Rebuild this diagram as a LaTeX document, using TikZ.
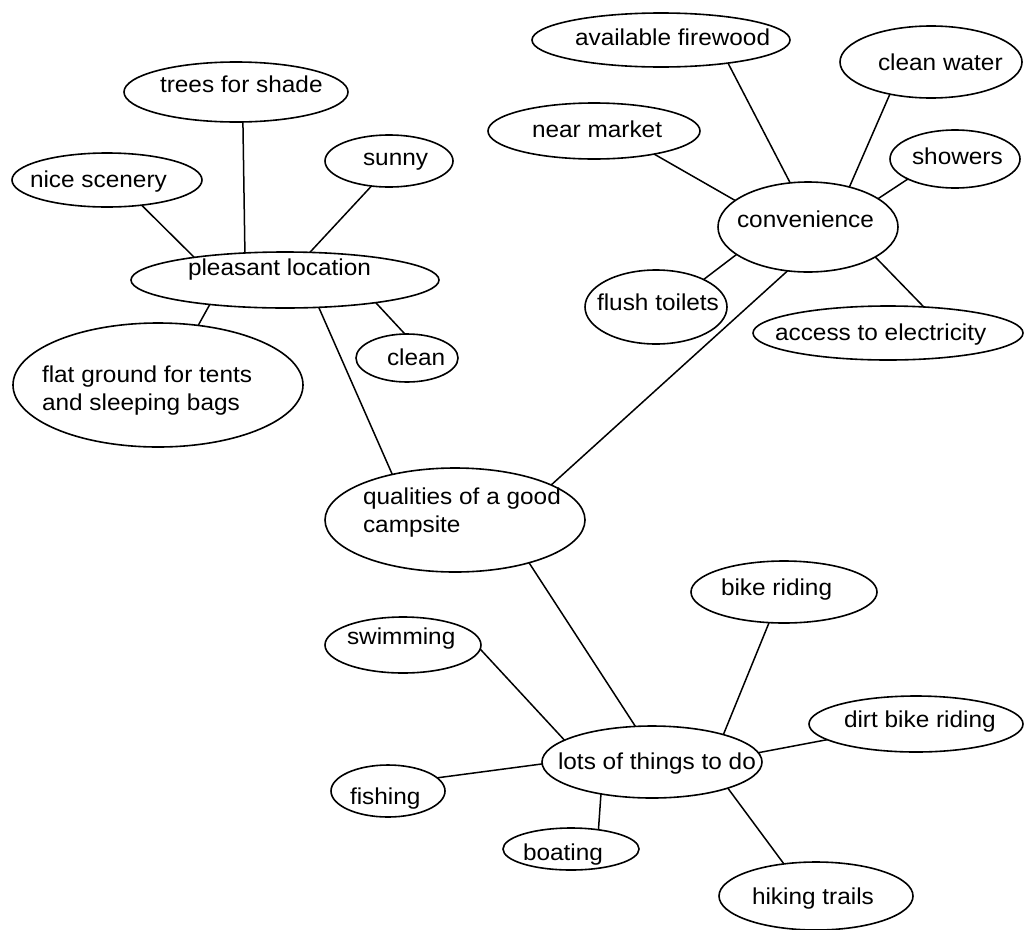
\documentclass[tikz,border=0pt]{standalone}
\usepackage{fontspec}
\setmainfont{Liberation Sans}[FakeStretch=1.06]
\usetikzlibrary{shapes.geometric}
\newcommand\tx[3]{\makebox[0pt][l]{\hspace*{#1pt}\raisebox{#2pt}{#3}}}
\newcommand\twol[2]{\begin{tabular}[b]{@{}l@{}}#1\\#2\end{tabular}}
\begin{document}
\begin{tikzpicture}[x=1pt,y=-1pt,
  bub/.style={draw, ellipse, line width=1.6pt, inner sep=0pt, outer sep=0pt,
    text height=0pt, text depth=0pt, font=\fontsize{23}{28}\selectfont},
  link/.style={line width=1.5pt}]
\useasboundingbox (0,0) rectangle (1024,929);
% left cluster
\node[bub, minimum width=224pt, minimum height=60pt] (trees) at (236,92) {\tx{-76}{0}{trees for shade}};
\node[bub, minimum width=190pt, minimum height=54pt] (scen) at (107,180) {\tx{-77}{-7}{nice scenery}};
\node[bub, minimum width=128pt, minimum height=52pt] (sunny) at (389,161) {\tx{-26}{-4}{sunny}};
\node[bub, minimum width=308pt, minimum height=56pt] (pleas) at (285,280) {\tx{-97}{5}{pleasant location}};
\node[bub, minimum width=102pt, minimum height=48pt] (clean) at (407,358) {\tx{-20}{-7}{clean}};
\node[bub, minimum width=290pt, minimum height=124pt] (flat) at (158,385) {\tx{-116}{-25}{\twol{flat ground for tents}{and sleeping bags}}};
% top right cluster
\node[bub, minimum width=258pt, minimum height=54pt] (fire) at (661,40) {\tx{-86}{-5}{available firewood}};
\node[bub, minimum width=182pt, minimum height=72pt] (water) at (931,62) {\tx{-53}{-8}{clean water}};
\node[bub, minimum width=212pt, minimum height=56pt] (market) at (594,131) {\tx{-62}{-6}{near market}};
\node[bub, minimum width=130pt, minimum height=58pt] (showers) at (955,159) {\tx{-43}{-5}{showers}};
\node[bub, minimum width=180pt, minimum height=90pt] (conv) at (808,227) {\tx{-71}{0}{convenience}};
\node[bub, minimum width=142pt, minimum height=74pt] (toilets) at (656,307) {\tx{-59}{-3}{flush toilets}};
\node[bub, minimum width=270pt, minimum height=54pt] (elec) at (888,333) {\tx{-113}{-7}{access to electricity}};
% centre
\node[bub, minimum width=260pt, minimum height=104pt] (qual) at (455,520) {\tx{-92}{-12}{\twol{qualities of a good}{campsite}}};
% bottom cluster
\node[bub, minimum width=156pt, minimum height=56pt] (swim) at (403,645) {\tx{-56}{1}{swimming}};
\node[bub, minimum width=220pt, minimum height=72pt] (lots) at (652,762) {\tx{-94}{-7}{lots of things to do}};
\node[bub, minimum width=114pt, minimum height=52pt] (fish) at (388,791) {\tx{-38}{-13}{fishing}};
\node[bub, minimum width=136pt, minimum height=42pt] (boat) at (571,849) {\tx{-48}{-11}{boating}};
\node[bub, minimum width=186pt, minimum height=62pt] (bike) at (784,592) {\tx{-63}{-3}{bike riding}};
\node[bub, minimum width=214pt, minimum height=56pt] (dirt) at (916,724) {\tx{-72}{-3}{dirt bike riding}};
\node[bub, minimum width=194pt, minimum height=68pt] (hike) at (816,896) {\tx{-64}{-8}{hiking trails}};
% connectors
\draw[link] (trees.-77) -- (pleas.146);
\draw[link] (scen.-36) -- (pleas.166);
\draw[link] (sunny.235) -- (pleas.48);
\draw[link] (pleas.-14) -- (clean.95);
\draw[link] (pleas.198) -- (flat.56);
\draw[link] (pleas.-39) -- (qual.144);
\draw[link] (conv.245) -- (qual.20);
\draw[link] (qual.-30) -- (lots.115);
\draw[link] (fire.-19) -- (conv.112);
\draw[link] (market.-21) -- (conv.160);
\draw[link] (water.218) -- (conv.44);
\draw[link] (showers.203) -- (conv.22);
\draw[link] (toilets.30) -- (conv.201);
\draw[link] (elec.36) -- (conv.-24);
\draw[link] (swim.-3) -- (lots.166);
\draw[link] (fish.15) -- (lots.181);
\draw[link] (boat.35) -- (lots.212);
\draw[link] (bike.244) -- (lots.21);
\draw[link] (dirt.190) -- (lots.5);
\draw[link] (hike.135) -- (lots.-19);
\end{tikzpicture}
\end{document}
